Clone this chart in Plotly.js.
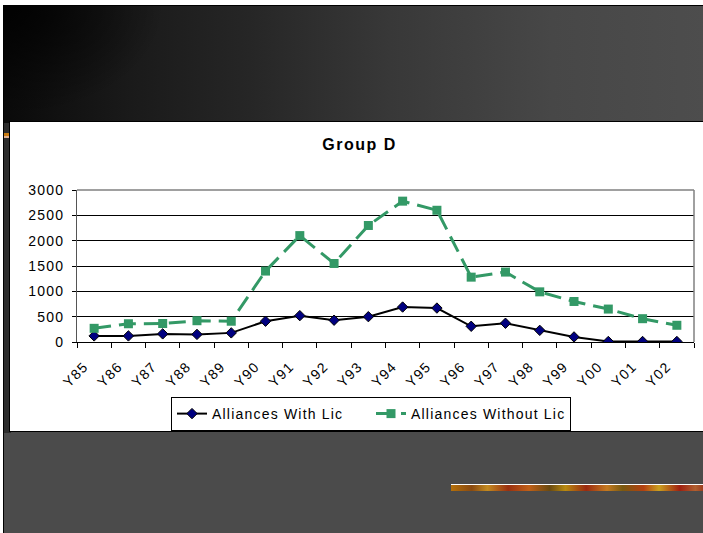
<!DOCTYPE html>
<html>
<head>
<meta charset="utf-8">
<script src="https://cdn.plot.ly/plotly-3.0.1.min.js"></script>
<style>
  html, body { margin: 0; padding: 0; background: #ffffff; width: 703px; height: 533px; overflow: hidden; }
  #slide {
    position: absolute; left: 3px; top: 5px; width: 702px; height: 530px;
    background: #4b4b4b; border-left: 1px solid #000; border-top: 1px solid #000; box-sizing: border-box;
  }
  #band {
    position: absolute; left: 0; top: 0; width: 702px; height: 117px;
    background:
      radial-gradient(ellipse 160px 110px at 0 0, rgba(0,0,0,0.9), rgba(0,0,0,0.0)),
      linear-gradient(to right, #0a0a0a 0%, #1a1a1a 18%, #262626 35%, #383838 55%, #474747 78%, #4d4d4d 100%);
  }
  #sidebar { position: absolute; left: 0; top: 117px; width: 7px; height: 310px; background: #2c2c2c; }
  #tab { position: absolute; left: 0; top: 127px; width: 5px; height: 5px; background: linear-gradient(#c77a10 60%, #e0b090 60%); }
  #stripe {
    position: absolute; left: 447px; top: 478px; width: 260px; height: 6px;
    border-top: 1px solid #ffffff;
    background: linear-gradient(to right, #b5700a, #8a4a10 8%, #c28a20 14%, #9a3010 22%, #c06018 30%, #6a4a10 38%, #b88a10 44%, #9a2a10 52%, #c47a20 60%, #7a5a10 66%, #b34010 74%, #c9a020 80%, #a02010 88%, #b06030 94%, #8a1a10 100%);
  }
  #panel {
    position: absolute; left: 9px; top: 121px; width: 700px; height: 311px;
    background: #ffffff; border: 1px solid #000; border-right: none; box-sizing: border-box;
  }
  #chart { position: absolute; left: 0; top: 0; width: 699px; height: 309px; }
  .xtick text, .ytick text, .legendtext { letter-spacing: 1.2px; }
  .gtitle { letter-spacing: 1.5px; }
</style>
</head>
<body>
<div id="slide">
  <div id="band"></div>
  <div id="sidebar"></div>
  <div id="tab"></div>
  <div id="stripe"></div>
</div>
<div id="panel"><div id="chart"></div></div>
<script>
// Yearly alliance counts, split by licensing
const years = ["Y85","Y86","Y87","Y88","Y89","Y90","Y91","Y92","Y93","Y94","Y95","Y96","Y97","Y98","Y99","Y00","Y01","Y02"];
const withLic = [120, 120, 160, 150, 180, 410, 520, 430, 500, 690, 670, 310, 370, 230, 100, 10, 10, 10];
const withoutLic = [270, 360, 365, 420, 410, 1400, 2100, 1550, 2300, 2780, 2600, 1280, 1380, 990, 800, 650, 460, 330];
const yTicks = [0, 500, 1000, 1500, 2000, 2500, 3000];

const font = "Liberation Sans, Arial, sans-serif";

const traces = [
  {
    name: "Alliances With Lic",
    x: years, y: withLic,
    type: "scatter", mode: "lines+markers",
    line: { color: "#000000", width: 2 },
    marker: { symbol: "diamond", size: 8, color: "#000080", line: { color: "#000000", width: 1 } }
  },
  {
    name: "Alliances Without Lic",
    x: years, y: withoutLic,
    type: "scatter", mode: "lines+markers",
    line: { color: "#339966", width: 3, dash: "17px,8px" },
    marker: { symbol: "square", size: 9, color: "#339966" }
  }
];

const layout = {
  width: 699, height: 309,
  margin: { l: 67, r: 15, t: 68, b: 89 },
  paper_bgcolor: "#ffffff", plot_bgcolor: "#ffffff",
  showlegend: true,
  title: {
    text: "<b>Group D</b>",
    font: { family: font, size: 16, color: "#000000" },
    x: 0.5, xref: "container", xanchor: "center",
    y: 1 - 22 / 309, yref: "container", yanchor: "middle"
  },
  font: { family: font, size: 14, color: "#000000" },
  xaxis: {
    type: "category",
    range: [-0.5, years.length - 0.5],
    autorange: false,
    tickson: "boundaries",
    ticks: "outside", ticklen: 5, tickcolor: "#000000",
    tickangle: -45,
    ticklabelshift: -10,
    ticklabelstandoff: 10,
    automargin: false,
    showgrid: false, zeroline: false,
    showline: true, linecolor: "#000000", linewidth: 1,
    tickfont: { family: font, size: 14, color: "#000000" },
    fixedrange: true
  },
  yaxis: {
    range: [0, 3000],
    autorange: false,
    automargin: false,
    tickmode: "array", tickvals: yTicks, ticktext: yTicks.map(String),
    ticks: "outside", ticklen: 4, tickcolor: "#000000",
    ticklabelstandoff: 5,
    showgrid: true, gridcolor: "#000000", gridwidth: 1,
    zeroline: false,
    showline: true, linecolor: "#555555", linewidth: 1,
    tickfont: { family: font, size: 14, color: "#000000" },
    fixedrange: true
  },
  shapes: [
    { type: "line", xref: "paper", yref: "paper", x0: 0, x1: 1, y0: 1, y1: 1, line: { color: "#808080", width: 1.5 } },
    { type: "line", xref: "paper", yref: "paper", x0: 1, x1: 1, y0: 0, y1: 1, line: { color: "#808080", width: 1.5 } }
  ],
  legend: {
    orientation: "h",
    xref: "container", yref: "container",
    x: 161 / 699, xanchor: "left",
    y: (309 - 275) / 309, yanchor: "top",
    bordercolor: "#000000", borderwidth: 1,
    bgcolor: "#ffffff",
    font: { family: font, size: 14, color: "#000000" },
    entrywidth: 154, entrywidthmode: "pixels",
    tracegroupgap: 0
  }
};

Plotly.newPlot("chart", traces, layout, { staticPlot: true, displayModeBar: false });
</script>
</body>
</html>
